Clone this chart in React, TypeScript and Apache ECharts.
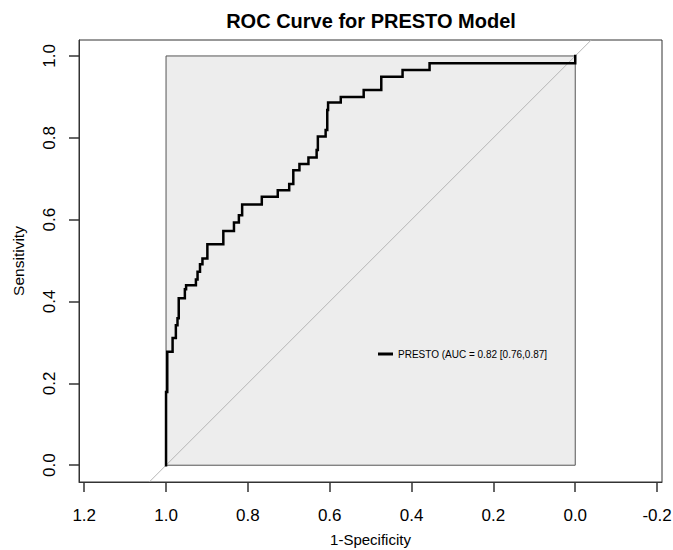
import React, { useEffect, useRef } from "react";
import * as echarts from "echarts";

// ROC curve vertices (specificity, sensitivity)
const specificity = [
  1.0, 1.0, 0.997, 0.997, 0.984, 0.984, 0.976, 0.976, 0.972, 0.972, 0.969, 0.969,
  0.954, 0.954, 0.951, 0.951, 0.927, 0.927, 0.923, 0.923, 0.917, 0.917, 0.911, 0.911,
  0.899, 0.899, 0.86, 0.86, 0.834, 0.834, 0.822, 0.822, 0.814, 0.814, 0.766, 0.766,
  0.727, 0.727, 0.699, 0.699, 0.689, 0.689, 0.674, 0.674, 0.652, 0.652, 0.632, 0.632,
  0.629, 0.629, 0.61, 0.61, 0.606, 0.606, 0.604, 0.604, 0.573, 0.573, 0.517, 0.517,
  0.474, 0.474, 0.422, 0.422, 0.356, 0.356, 0.0, 0.0,
];
const sensitivity = [
  0.0, 0.179, 0.179, 0.277, 0.277, 0.311, 0.311, 0.342, 0.342, 0.359, 0.359, 0.408,
  0.408, 0.43, 0.43, 0.44, 0.44, 0.454, 0.454, 0.473, 0.473, 0.491, 0.491, 0.505,
  0.505, 0.54, 0.54, 0.572, 0.572, 0.593, 0.593, 0.611, 0.611, 0.637, 0.637, 0.656,
  0.656, 0.672, 0.672, 0.687, 0.687, 0.721, 0.721, 0.736, 0.736, 0.752, 0.752, 0.77,
  0.77, 0.803, 0.803, 0.819, 0.819, 0.868, 0.868, 0.886, 0.886, 0.9, 0.9, 0.917,
  0.917, 0.949, 0.949, 0.966, 0.966, 0.982, 0.982, 1.0,
];

// Max-AUC box corners
const boxSpec = [1, 0];
const boxSens = [0, 1];

const xTicks = [1.2, 1.0, 0.8, 0.6, 0.4, 0.2, 0.0, -0.2];
const yTicks = [0.0, 0.2, 0.4, 0.6, 0.8, 1.0];

const seriesName = "PRESTO (AUC = 0.82 [0.76,0.87]";
const titleText = "ROC Curve for PRESTO Model";
const xName = "1-Specificity";
const yName = "Sensitivity";

// axis extents (R style 4% padding with asp = 1)
const xMin = -0.212;
const xMax = 1.2127;
const yMin = -0.041;
const yMax = 1.039;

const FONT = "'Liberation Sans', Arial, Helvetica, sans-serif";

export default function App() {
  const ref = useRef<HTMLDivElement>(null);
  useEffect(() => {
    if (!ref.current) return;
    const chart = echarts.init(ref.current, undefined, { renderer: "svg" });
    const roc = specificity.map((s, i) => [s, sensitivity[i]]);
    // diagonal sens = 1 - spec spanning the plot region
    const diag = [
      [1 - yMin, yMin],
      [1 - yMax, yMax],
    ];
    chart.setOption({
      animation: false,
      backgroundColor: "#ffffff",
      textStyle: { fontFamily: FONT },
      title: {
        text: titleText,
        left: 366,
        top: 6,
        textAlign: "center",
        textStyle: { fontFamily: FONT, fontSize: 20, fontWeight: "bold", color: "#000" },
      },
      legend: {
        show: true,
        left: 373,
        top: 344,
        itemWidth: 15,
        itemHeight: 3,
        itemGap: 0,
        icon: "rect",
        textStyle: { fontFamily: FONT, fontSize: 10, color: "#000" },
        data: [{ name: seriesName, itemStyle: { color: "#000" } }],
      },
      grid: {
        left: 79,
        right: 11,
        top: 40,
        bottom: 68,
        containLabel: false,
        outerBoundsMode: "none",
        show: true,
        borderColor: "#333",
        borderWidth: 1,
        backgroundColor: "transparent",
      },
      xAxis: {
        type: "value",
        inverse: true,
        min: xMin,
        max: xMax,
        name: xName,
        nameLocation: "middle",
        nameGap: 50,
        nameTextStyle: { fontFamily: FONT, fontSize: 15, color: "#000" },
        axisLine: { show: true, onZero: false, lineStyle: { color: "#333", width: 1 } },
        axisTick: {
          show: true,
          length: 10,
          customValues: xTicks,
          lineStyle: { color: "#333", width: 1.5 },
        },
        axisLabel: {
          customValues: xTicks,
          margin: 25,
          fontFamily: FONT,
          fontSize: 17,
          color: "#000",
          formatter: (v: number) => v.toFixed(1),
        },
        splitLine: { show: false },
      },
      yAxis: {
        type: "value",
        min: yMin,
        max: yMax,
        name: yName,
        nameLocation: "middle",
        nameGap: 53,
        nameTextStyle: { fontFamily: FONT, fontSize: 15.5, color: "#000" },
        axisLine: { show: true, onZero: false, lineStyle: { color: "#333", width: 1 } },
        axisTick: {
          show: true,
          length: 10,
          customValues: yTicks,
          lineStyle: { color: "#333", width: 1.5 },
        },
        axisLabel: {
          customValues: yTicks,
          rotate: 90,
          margin: 21,
          fontFamily: FONT,
          fontSize: 17,
          color: "#000",
          formatter: (v: number) => v.toFixed(1),
        },
        splitLine: { show: false },
      },
      series: [
        {
          type: "line",
          name: "maxauc",
          data: [],
          silent: true,
          z: 1,
          markArea: {
            silent: true,
            itemStyle: { color: "#EDEDED", borderColor: "#555", borderWidth: 1 },
            data: [[{ coord: [boxSpec[0], boxSens[0]] }, { coord: [boxSpec[1], boxSens[1]] }]],
          },
        },
        {
          type: "line",
          name: "diag",
          data: diag,
          showSymbol: false,
          silent: true,
          z: 2,
          lineStyle: { color: "#b5b5b5", width: 1 },
        },
        {
          type: "line",
          name: seriesName,
          data: roc,
          showSymbol: false,
          z: 3,
          color: "#000",
          lineStyle: { color: "#000", width: 2.5, cap: "square", join: "miter" },
        },
      ],
    });
    return () => chart.dispose();
  }, []);
  return (
    <div
      ref={ref}
      style={{ position: "absolute", left: 0, top: 0, width: 673, height: 550 }}
    />
  );
}
